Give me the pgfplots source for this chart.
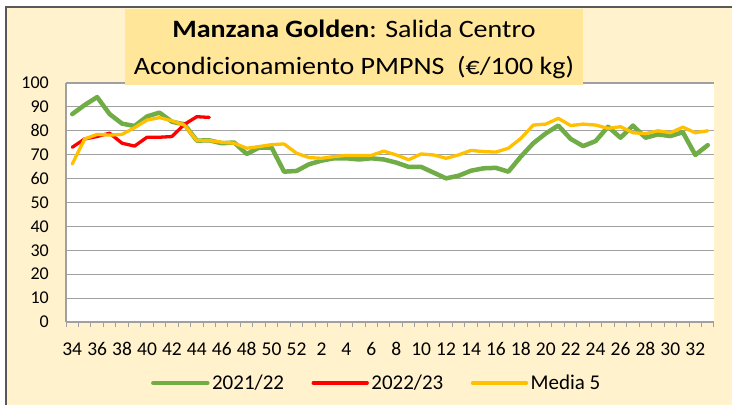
\documentclass[border=0pt]{standalone}
\usepackage{graphicx}
\usepackage{pgfplots}
\pgfplotsset{compat=1.18}
\usepackage{fontspec}
\setmainfont{Carlito}

\definecolor{cream}{HTML}{FFF2CC}
\definecolor{titlefill}{HTML}{FFE699}
\definecolor{gridgray}{HTML}{A0A0A0}
\definecolor{framegray}{HTML}{595959}
\definecolor{cGreen}{HTML}{70AD47}
\definecolor{cRed}{HTML}{FF0000}
\definecolor{cGold}{HTML}{FFC000}

\begin{document}
\begin{tikzpicture}[x=1pt,y=1pt]
\useasboundingbox (0,0) rectangle (732,405);
\fill[white] (0,0) rectangle (732,405);
\fill[cream] (6,0) rectangle (732,398);
\draw[framegray, line width=2pt] (6,0) -- (6,398) -- (732,398);

\begin{axis}[
    at={(66pt,83pt)}, anchor=south west,
    scale only axis, width=648pt, height=239pt,
    xmin=-0.5, xmax=51.5, ymin=0, ymax=100,
    axis x line*=bottom, axis y line*=left,
    axis line style={draw=gridgray, line width=1.2pt, -},
    axis background/.style={fill=white},
    xtick={0,2,...,50},
    xticklabels={34,36,38,40,42,44,46,48,50,52,2,4,6,8,10,12,14,16,18,20,22,24,26,28,30,32},
    minor xtick={-0.5,0.5,...,51.5},
    ytick={0,10,...,100},
    major tick length=0pt, minor tick length=5pt, tick align=outside,
    minor tick style={draw=gridgray, line width=1pt},
    ymajorgrids, major grid style={draw=gridgray, line width=1.2pt},
    /pgf/number format/assume math mode=true,
    tick label style={font=\fontsize{18}{20}\selectfont, inner sep=0pt},
    xticklabel style={anchor=base, yshift=-33pt, font=\fontsize{19.5}{21}\selectfont},
    yticklabel style={anchor=east, xshift=-17pt},
    legend columns=-1,
    legend style={at={(0.131,-0.255)}, anchor=west, draw=none, fill=none,
        inner sep=0pt, font=\fontsize{21}{23}\selectfont,
        nodes={inner sep=2.5pt},
        /tikz/every even column/.append style={column sep=25pt}},
    legend image code/.code={\draw[#1] (0pt,0pt) -- (54pt,0pt);},
    every axis plot/.append style={line cap=round, line join=round},
]
\addplot[cGreen, line width=4.5pt] coordinates {
(0,87) (1,90.8) (2,94.1) (3,87) (4,83) (5,82) (6,86) (7,87.6) (8,83.8) (9,82.7)
(10,75.9) (11,76) (12,74.8) (13,75.1) (14,70.3) (15,73) (16,73) (17,62.9) (18,63.2) (19,66)
(20,67.5) (21,68.5) (22,68.5) (23,68) (24,68.5) (25,68) (26,66.7) (27,64.9) (28,64.9) (29,62.5)
(30,60.1) (31,61.2) (32,63.3) (33,64.3) (34,64.5) (35,62.9) (36,69.2) (37,74.8) (38,78.9) (39,82.2)
(40,76.6) (41,73.6) (42,75.7) (43,81.7) (44,77.1) (45,82.2) (46,77.1) (47,78.5) (48,77.8) (49,79.4)
(50,69.9) (51,74)};
\addlegendentry{2021/22}
\addplot[cRed, line width=3.3pt] coordinates {
(0,73.1) (1,76.6) (2,77.6) (3,79) (4,74.8) (5,73.6) (6,77.3) (7,77.3) (8,77.6) (9,82.7)
(10,85.9) (11,85.6)};
\addlegendentry{2022/23}
\addplot[cGold, line width=3.3pt] coordinates {
(0,66.1) (1,76.6) (2,78.5) (3,78.2) (4,78.5) (5,81.3) (6,84.5) (7,85.5) (8,84.2) (9,82.4)
(10,75.9) (11,75.9) (12,75.2) (13,74.8) (14,72.7) (15,73.4) (16,74.2) (17,74.5) (18,70.6) (19,68.8)
(20,68.5) (21,69.2) (22,69.7) (23,69.7) (24,69.7) (25,71.5) (26,69.9) (27,67.9) (28,70.3) (29,69.9)
(30,68.5) (31,69.9) (32,71.8) (33,71.3) (34,71.1) (35,72.7) (36,76.8) (37,82.4) (38,82.8) (39,85.2)
(40,82.2) (41,82.8) (42,82.4) (43,81) (44,81.7) (45,79.2) (46,78.8) (47,80) (48,79.2) (49,81.5)
(50,79.2) (51,80)};
\addlegendentry{Media 5}
\end{axis}

\fill[titlefill] (125,320) rectangle (583,396);
\node[anchor=base, inner sep=0pt, font=\fontsize{25}{28}\selectfont] at (354,367)
  {\scalebox{1.12}[1]{\textbf{Manzana Golden}: Salida Centro}};
\node[anchor=base, inner sep=0pt, font=\fontsize{25}{28}\selectfont] at (354,330)
  {\scalebox{1.12}[1]{Acondicionamiento PMPNS\ \ (€/100 kg)}};
\end{tikzpicture}
\end{document}
